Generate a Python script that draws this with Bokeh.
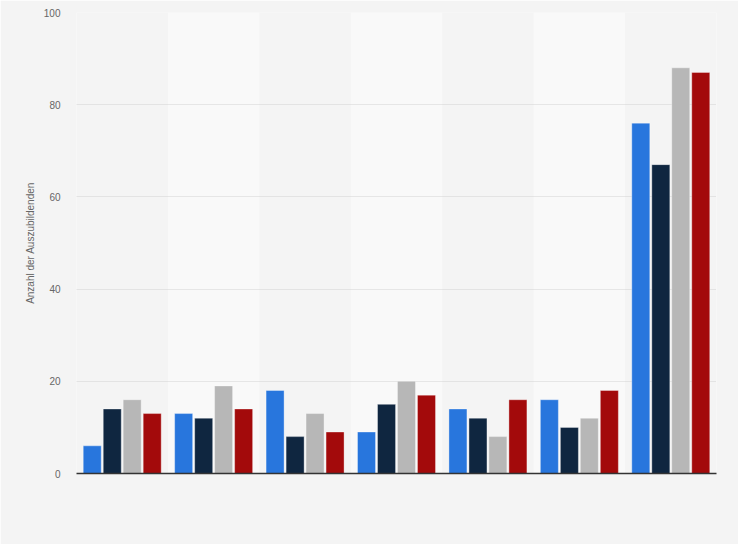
from bokeh.plotting import figure
from bokeh.models import ColumnDataSource, FactorRange, Range1d, FixedTicker
from bokeh.transform import dodge
from bokeh.embed import file_html
from bokeh.resources import INLINE

categories = ["1", "2", "3", "4", "5", "6", "7"]
series_names = ["Serie 1", "Serie 2", "Serie 3", "Serie 4"]
serie_1 = [6, 13, 18, 9, 14, 16, 76]
serie_2 = [14, 12, 8, 15, 12, 10, 67]
serie_3 = [16, 19, 13, 20, 8, 12, 88]
serie_4 = [13, 14, 9, 17, 16, 18, 87]
y_ticks = [0, 20, 40, 60, 80, 100]
band_categories = ["2", "4", "6"]

colors = ["#2876dd", "#0f2640", "#b7b7b7", "#a30a0b"]
font = "Liberation Sans"

source = ColumnDataSource(dict(cat=categories, s1=serie_1, s2=serie_2, s3=serie_3, s4=serie_4))
band_source = ColumnDataSource(dict(cat=band_categories, top=[100] * len(band_categories)))

p = figure(
    x_range=FactorRange(*categories), y_range=Range1d(0, 100),
    width=738, height=544, output_backend="svg", toolbar_location=None,
    min_border_left=76, min_border_right=22, min_border_top=12, min_border_bottom=71,
)
p.background_fill_color = "#f4f4f4"
p.border_fill_color = "#f4f4f4"
p.outline_line_color = None

# alternating lighter bands behind everything
p.vbar(x="cat", top="top", bottom=0, width=1.0, source=band_source,
       fill_color="#f9f9f9", line_color=None, level="image")

offsets = [-0.328, -0.109, 0.109, 0.328]
cols = ["s1", "s2", "s3", "s4"]
for col, off, c, name in zip(cols, offsets, colors, series_names):
    p.vbar(x=dodge("cat", off, range=p.x_range), top=col, bottom=0, width=0.197,
           source=source, fill_color=c, line_color="#ffffff", line_alpha=0.35,
           line_width=1)

p.xgrid.grid_line_color = None
p.ygrid.grid_line_color = "#d2d2d2"
p.ygrid.grid_line_dash = "1 1"
p.ygrid.grid_line_width = 1

p.xaxis.axis_line_color = "#333333"
p.xaxis.axis_line_width = 1.5
p.xaxis.major_tick_line_color = None
p.xaxis.minor_tick_line_color = None
p.xaxis.major_label_text_color = None
p.xaxis.major_label_text_font_size = "1px"

p.yaxis.ticker = FixedTicker(ticks=y_ticks)
p.yaxis.axis_line_color = None
p.yaxis.major_tick_line_color = None
p.yaxis.minor_tick_line_color = None
p.yaxis.major_tick_out = 0
p.yaxis.major_label_standoff = 16
p.yaxis.major_label_text_color = "#666666"
p.yaxis.major_label_text_font = font
p.yaxis.major_label_text_font_size = "10px"
p.yaxis.axis_label = "Anzahl der Auszubildenden"
p.yaxis.axis_label_text_font = font
p.yaxis.axis_label_text_font_size = "10px"
p.yaxis.axis_label_text_font_style = "normal"
p.yaxis.axis_label_text_color = "#666666"
p.yaxis.axis_label_standoff = 5

open("out.html", "w").write(file_html(p, INLINE))
